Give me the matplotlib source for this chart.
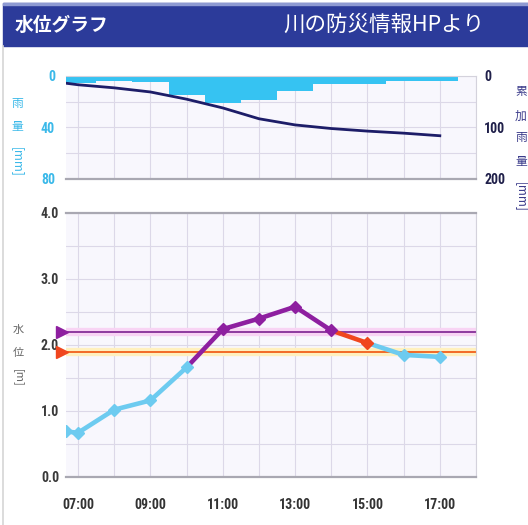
"""
Water level graph (水位グラフ) with hourly rainfall and cumulative rainfall panel.
"""

import matplotlib
matplotlib.use("Agg")
import matplotlib.pyplot as plt
from matplotlib import font_manager
from matplotlib.patches import Rectangle
from matplotlib.ticker import FixedLocator, MultipleLocator

W, H = 528, 525

# --- data ------------------------------------------------------------------
LEVEL_TIMES = ["06:40", "07:00", "08:00", "09:00", "10:00", "11:00",
               "12:00", "13:00", "14:00", "15:00", "16:00", "17:00"]
LEVEL_M = [0.69, 0.67, 1.02, 1.16, 1.66, 2.24, 2.40, 2.58, 2.22, 2.03, 1.85, 1.82]
LEVEL_STAGE = ["normal", "normal", "normal", "normal", "normal", "danger",
               "danger", "danger", "danger", "alert", "normal", "normal"]
CUM_RAIN_MM = [14, 17, 23, 31, 45, 62, 83, 95, 102, 107, 111, 116]

RAIN_TIMES = ["07:00", "08:00", "09:00", "10:00", "11:00", "12:00",
              "13:00", "14:00", "15:00", "16:00", "17:00"]
RAIN_MM = [5.5, 4.0, 4.5, 15.0, 21.0, 19.0, 11.5, 6.0, 6.0, 3.5, 3.5]

THRESHOLDS = [2.2, 1.9]
THRESHOLD_NAMES = ["danger", "alert"]

X_TICKS = ["07:00", "09:00", "11:00", "13:00", "15:00", "17:00"]

# --- styles -----------------------------------------------------------------
STAGE_COLORS = {"normal": "#6DCBF0", "danger": "#8E1FA0", "alert": "#F0461E"}
LINE_COLORS = {"danger": "#8E3A9E", "alert": "#F26A26"}
HALO_COLORS = {"danger": "#F8D4F4", "alert": "#FFF0BE"}
RAIN_COLOR = "#36C3F2"
CUM_COLOR = "#1D1D68"
BG = "#F8F7FD"
GRID = "#DCD8E8"
EDGE = "#A9A8B2"

plt.rcParams["font.family"] = ["Noto Sans CJK JP", "DejaVu Sans"]
_names = {f.name for f in font_manager.fontManager.ttflist}
NARROW = "Liberation Sans"
for cand in ["Liberation Sans Narrow", "Roboto Condensed", "Open Sans Condensed",
             "Noto Sans Condensed", "DejaVu Sans Condensed"]:
    if cand in _names:
        NARROW = cand
        break


def hours(t):
    h, m = t.split(":")
    return int(h) + int(m) / 60.0


def fx(px):
    return px / W


def fy(py):
    return 1 - py / H


def style_axes(ax, xlim):
    ax.set_facecolor(BG)
    ax.set_xlim(*xlim)
    ax.xaxis.set_major_locator(MultipleLocator(1))
    ax.grid(True, axis="x", color=GRID, linewidth=0.8)
    ax.grid(True, axis="y", which="both", color=GRID, linewidth=0.8)
    ax.set_axisbelow(True)
    ax.spines["left"].set_visible(False)
    ax.spines["right"].set_color("#D4D2DC")
    ax.spines["top"].set_color("#D4D2DC")
    ax.spines["bottom"].set_color(EDGE)
    ax.spines["bottom"].set_linewidth(1.6)
    ax.tick_params(which="both", length=0)


def set_tick_font(labels, weight="normal"):
    for lab in labels:
        lab.set_fontfamily(NARROW)
        lab.set_fontweight(weight)


def vertical_label(fig, x, ys, chars, tail, tail_y, color, size):
    for y, ch in zip(ys, chars):
        fig.text(fx(x), fy(y), ch, color=color, fontsize=size,
                 ha="center", va="center")
    fig.text(fx(x), fy(tail_y), tail, color=color, fontsize=size,
             ha="center", va="center", rotation=-90)


def render(out_path="out.png"):
    fig = plt.figure(figsize=(W / 100, H / 100), dpi=100)
    fig.patch.set_facecolor("white")

    # header band + left frame line
    fig.add_artist(Rectangle((fx(3), fy(46)), fx(525), 43 / H,
                             transform=fig.transFigure, color="#2C3B9A", zorder=0))
    fig.add_artist(Rectangle((fx(3), fy(5)), fx(525), 2 / H,
                             transform=fig.transFigure, color="#8E9AD2", zorder=1))
    fig.add_artist(plt.Line2D([fx(3), fx(3)], [0, fy(46)], transform=fig.transFigure,
                              color="#D6D6D6", linewidth=1.2))
    fig.text(fx(15), fy(25), "水位グラフ", color="white", fontsize=13.5,
             fontweight="bold", ha="left", va="center")
    fig.text(fx(283), fy(25), "川の防災情報HPより", color="white", fontsize=15.5,
             ha="left", va="center")

    level_x = [hours(t) for t in LEVEL_TIMES]
    rain_x = [hours(t) for t in RAIN_TIMES]
    xlim = (hours("06:40"), hours("18:00"))

    # --- rainfall panel ---
    ax_r = fig.add_axes([fx(66), fy(179), fx(410), 103 / H])
    style_axes(ax_r, xlim)
    ax_r.bar(rain_x, RAIN_MM, width=1.0, color=RAIN_COLOR, zorder=2)
    ax_r.set_ylim(80, 0)
    ax_r.yaxis.set_major_locator(FixedLocator([0, 40, 80]))
    ax_r.yaxis.set_minor_locator(FixedLocator([20, 60]))
    ax_r.set_xticklabels([])
    ax_r.tick_params(axis="y", pad=8, labelsize=10, labelcolor="#3BB9E9")
    set_tick_font(ax_r.get_yticklabels(), "bold")

    ax_c = ax_r.twinx()
    ax_c.plot(level_x, CUM_RAIN_MM, color=CUM_COLOR, linewidth=2.0, zorder=3)
    ax_c.set_ylim(200, 0)
    ax_c.set_xlim(*xlim)
    ax_c.yaxis.set_major_locator(FixedLocator([0, 100, 200]))
    for sp in ax_c.spines.values():
        sp.set_visible(False)
    ax_c.tick_params(length=0, pad=6, labelsize=10, labelcolor="#20204A")
    set_tick_font(ax_c.get_yticklabels(), "bold")

    # --- water level panel ---
    ax_w = fig.add_axes([fx(66), fy(477), fx(410), 264 / H])
    style_axes(ax_w, xlim)
    ax_w.spines["top"].set_color(EDGE)
    ax_w.spines["top"].set_linewidth(1.6)
    ax_w.set_ylim(0, 4)
    ax_w.yaxis.set_major_locator(MultipleLocator(1.0))
    ax_w.yaxis.set_minor_locator(MultipleLocator(0.5))
    ax_w.yaxis.set_major_formatter(lambda v, _: f"{v:.1f}")
    ax_w.set_xticks([hours(t) for t in X_TICKS], X_TICKS)
    ax_w.xaxis.set_minor_locator(MultipleLocator(1))
    ax_w.grid(True, axis="x", which="minor", color=GRID, linewidth=0.8)
    ax_w.tick_params(axis="x", pad=15, labelsize=10, labelcolor="#333333")
    ax_w.tick_params(axis="y", pad=5, labelsize=10, labelcolor="#3A3A3A")
    set_tick_font(ax_w.get_xticklabels() + ax_w.get_yticklabels(), "bold")

    tri_x = xlim[0] - 4 / 36.2
    for level, name in zip(THRESHOLDS, THRESHOLD_NAMES):
        ax_w.axhline(level, color=HALO_COLORS[name], linewidth=6, zorder=1)
        ax_w.axhline(level, color=LINE_COLORS[name], linewidth=1.4, zorder=2)
        ax_w.plot([tri_x], [level], marker=">", markersize=8, clip_on=False,
                  color=STAGE_COLORS[name], zorder=5)

    for i in range(1, len(level_x)):
        ax_w.plot(level_x[i - 1:i + 1], LEVEL_M[i - 1:i + 1],
                  color=STAGE_COLORS[LEVEL_STAGE[i]], linewidth=3.3,
                  solid_capstyle="round", zorder=3)
    for x, y, st in zip(level_x, LEVEL_M, LEVEL_STAGE):
        ax_w.plot([x], [y], marker="D", markersize=6, color=STAGE_COLORS[st],
                  zorder=4)

    # axis titles written vertically
    vertical_label(fig, 17, [103, 127], ["雨", "量"], "[mm]", 162, "#3BB9E9", 8.5)
    vertical_label(fig, 521, [92, 116, 138, 161], ["累", "加", "雨", "量"], "[mm]",
                   197, "#3A3A8A", 8.5)
    vertical_label(fig, 18, [330, 353], ["水", "位"], "[m]", 378, "#666666", 8)

    fig.savefig(out_path, dpi=100)
    plt.close(fig)
    return out_path


if __name__ == "__main__":
    print(render())
